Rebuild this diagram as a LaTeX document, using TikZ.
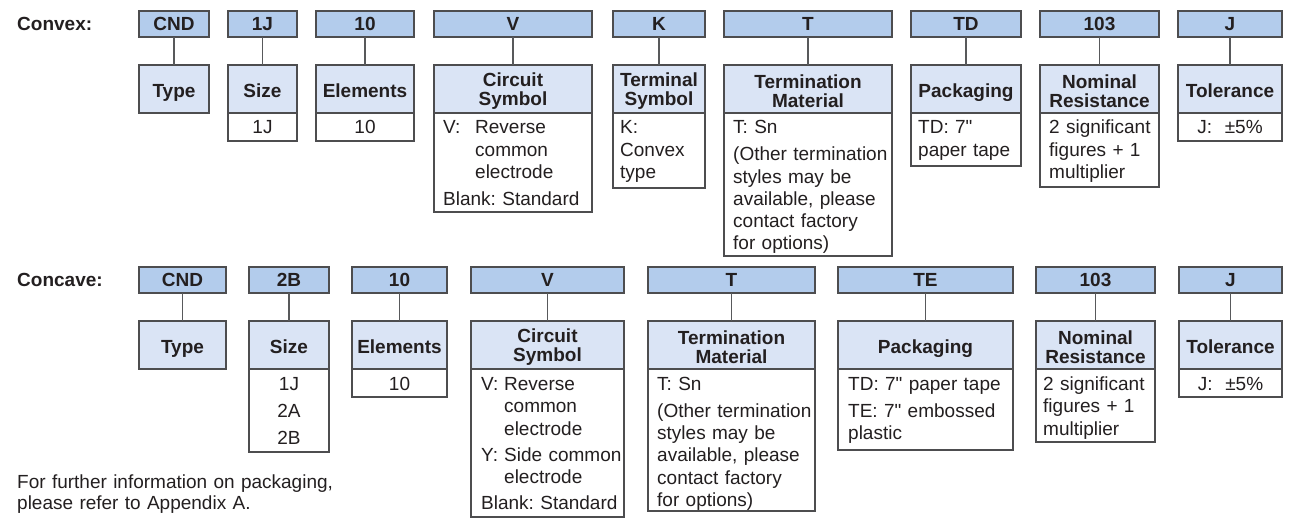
\documentclass[tikz,border=0pt]{standalone}
\usepackage{fontspec}
\setmainfont{Liberation Sans}[Ligatures=TeXOff]
\definecolor{codefill}{HTML}{B3CCEC}
\definecolor{headfill}{HTML}{DAE4F5}
\definecolor{boxline}{HTML}{4D4D4F}
\definecolor{connline}{HTML}{58595B}
\definecolor{txt}{HTML}{231F20}
\newcommand\myBody{\fontsize{19}{22.3}\selectfont\frenchspacing}
\newcommand\myHead{\fontsize{19}{19}\selectfont\bfseries}
\newcommand\hup{\rule{0pt}{17.5pt}}
\tikzset{
  box/.style={draw=boxline, line width=1.2pt, inner sep=0pt, outer sep=0pt, text=txt},
  codebox/.style={box, fill=codefill, minimum height=26pt, font=\myHead},
  headbox/.style={box, fill=headfill, minimum height=48pt, font=\myHead, align=center},
  bodybox/.style={box, fill=white},
  one/.style={text height=16.7pt, text depth=0pt},
  conn/.style={draw=connline, line width=1.3pt},
  btext/.style={font=\myBody, inner sep=0pt, align=left, anchor=base west, text=txt},
  ctext/.style={font=\myBody, inner sep=0pt, align=center, anchor=base, text=txt},
  lab/.style={font=\myHead, inner sep=0pt, anchor=base west, text=txt},
}
% #1 header options, #2 name, #3 x1, #4 x2, #5 row top, #6 code, #7 header, #8 body bottom (0 = none)
\newcommand\pcol[8][]{%
  \pgfmathsetmacro\cx{(#3+#4)/2}%
  \pgfmathsetmacro\cw{#4-#3}%
  \node[codebox, minimum width=\cw pt] (#2c) at (\cx,#5+13) {#6};
  \node[headbox, minimum width=\cw pt, #1] (#2h) at (\cx,#5+78) {#7};
  \draw[conn] (#2c) -- (#2h);
  \ifnum#8>0
    \pgfmathsetmacro\bh{#8-#5-102}%
    \node[bodybox, anchor=north, minimum width=\cw pt, minimum height=\bh pt] (#2b) at (#2h.south) {};
  \fi
}
\begin{document}
\begin{tikzpicture}[x=1pt, y=-1pt]
\useasboundingbox (0,0) rectangle (1312,518);

% ---------- Convex row ----------
\node[lab] (convex) at (17,31) {Convex:};
\pcol[one]{a1}{139}{209}{11}{CND}{Type}{0}
\pcol[one]{a2}{228}{297}{11}{1J}{Size}{141}
\pcol[one]{a3}{316}{414}{11}{10}{Elements}{141}
\pcol{a4}{434}{592}{11}{V}{\hup Circuit\\Symbol}{212}
\pcol{a5}{613}{705}{11}{K}{\hup Terminal\\Symbol}{188}
\pcol{a6}{724}{892}{11}{T}{\hup Termination\\Material}{256}
\pcol[one]{a7}{911}{1021}{11}{TD}{Packaging}{166}
\pcol{a8}{1040}{1159}{11}{103}{\hup Nominal\\Resistance}{187}
\pcol[one]{a9}{1178}{1282}{11}{J}{Tolerance}{141}

\node[ctext, text width=60pt] (a2t) at (262.5,134) {1J};
\node[ctext, text width=90pt] (a3t) at (365,134) {10};
\node[btext, text width=155pt] (a4t) at (443,134)
  {\makebox[32pt][l]{V:}Reverse\\\hspace*{32pt}common\\\hspace*{32pt}electrode\\[4.5pt]Blank: Standard};
\node[btext, text width=90pt] (a5t) at (620,134) {K:\\Convex\\type};
\node[btext, text width=165pt] (a6t) at (733,134)
  {T: Sn\\[4.5pt](Other termination\\styles may be\\available, please\\contact factory\\for options)};
\node[btext, text width=105pt] (a7t) at (918,134) {TD: 7"\\paper tape};
\node[btext, text width=115pt] (a8t) at (1049,134) {2 significant\\figures + 1\\multiplier};
\node[ctext, text width=100pt] (a9t) at (1230,134) {J:\ \ ±5\%};

% ---------- Concave row ----------
\node[lab] (concave) at (17,287) {Concave:};
\pcol[one]{b1}{139}{226}{267}{CND}{Type}{0}
\pcol[one]{b2}{249}{329}{267}{2B}{Size}{452}
\pcol[one]{b3}{352}{447}{267}{10}{Elements}{397}
\pcol{b4}{471}{624}{267}{V}{\hup Circuit\\Symbol}{517}
\pcol{b5}{648}{815}{267}{T}{\hup Termination\\Material}{511}
\pcol[one]{b6}{838}{1013}{267}{TE}{Packaging}{450}
\pcol{b7}{1036}{1155}{267}{103}{\hup Nominal\\Resistance}{442}
\pcol[one]{b8}{1179}{1282}{267}{J}{Tolerance}{397}

\node[ctext, text width=70pt] (b2t) at (289,390.5) {1J\\[4.5pt]2A\\[4.5pt]2B};
\node[ctext, text width=90pt] (b3t) at (399.5,390.5) {10};
\node[btext, text width=150pt] (b4t) at (481,390.5)
  {\makebox[23pt][l]{V:}Reverse\\\hspace*{23pt}common\\\hspace*{23pt}electrode\\[4pt]\makebox[23pt][l]{Y:}Side common\\\hspace*{23pt}electrode\\[4pt]Blank: Standard};
\node[btext, text width=165pt] (b5t) at (657,390.5)
  {T: Sn\\[4.5pt](Other termination\\styles may be\\available, please\\contact factory\\for options)};
\node[btext, text width=170pt] (b6t) at (848,390.5) {TD: 7" paper tape\\[4.5pt]TE: 7" embossed\\plastic};
\node[btext, text width=115pt] (b7t) at (1043,390.5) {2 significant\\figures + 1\\multiplier};
\node[ctext, text width=100pt] (b8t) at (1230.5,390.5) {J:\ \ ±5\%};

% ---------- footnote ----------
\node[btext, font=\fontsize{19}{21}\selectfont, text width=340pt] (note) at (17,488.5)
  {For further information on packaging,\\please refer to Appendix A.};
\end{tikzpicture}
\end{document}
